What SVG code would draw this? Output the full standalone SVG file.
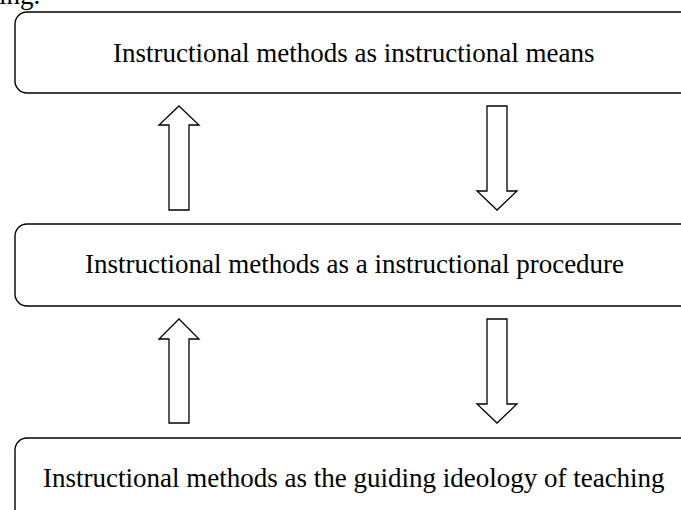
<svg xmlns="http://www.w3.org/2000/svg" width="681" height="510" viewBox="0 0 681 510">
<style>
.box{fill:#fff;stroke:#000;stroke-width:1.4}
.arr{fill:#fff;stroke:#000;stroke-width:1.3;stroke-linejoin:miter}
text{font-family:"Liberation Serif","Times New Roman",serif;font-size:27px;fill:#000}
</style>
<rect width="681" height="510" fill="#fff"/>
<text x="-1" y="4">ing.</text>
<g id="node-means">
<rect class="box" x="15" y="12" width="700" height="81" rx="12"/>
<text x="113" y="62">Instructional methods as instructional means</text>
</g>
<g id="node-procedure">
<rect class="box" x="15" y="224" width="700" height="82" rx="12"/>
<text x="85" y="273">Instructional methods as a instructional procedure</text>
</g>
<g id="node-ideology">
<rect class="box" x="15" y="438" width="700" height="100" rx="12"/>
<text x="43" y="487">Instructional methods as the guiding ideology of teaching</text>
</g>
<g id="connectors">
<polygon class="arr" points="179,106 199,125 189,125 189,210 169,210 169,125 159,125"/>
<polygon class="arr" points="487,106 507,106 507,191 517,191 497,210 477,191 487,191"/>
<polygon class="arr" points="179,319 199,339 189,339 189,423 169,423 169,339 159,339"/>
<polygon class="arr" points="487,319 507,319 507,404 517,404 497,423 477,404 487,404"/>
</g>
</svg>
